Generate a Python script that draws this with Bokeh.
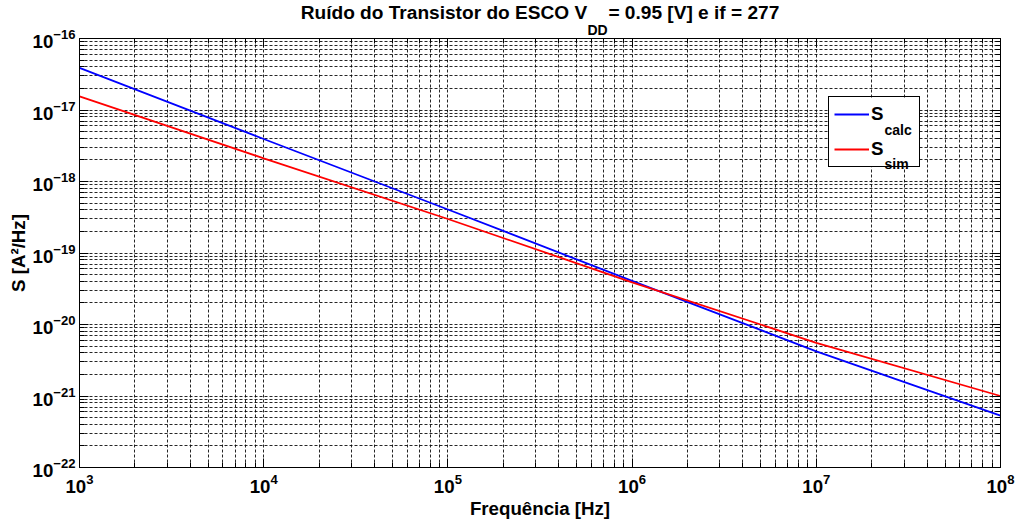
import math
from bokeh.plotting import figure
from bokeh.models import (Label, Legend, LegendItem, FixedTicker, LogAxis, Range1d,
                          Title, LogTickFormatter, BoxAnnotation)
from bokeh.embed import file_html
from bokeh.resources import INLINE
from bokeh.core.properties import value

# ---------------- data ----------------
freq = [1e3, 1e4, 1e5, 1e6, 1e7, 1e8]
s_calc = [3.89e-17, 3.93e-18, 4.06e-19, 4.07e-20, 4.22e-21, 5.33e-22]
s_sim = [1.55e-17, 2.11e-18, 2.99e-19, 3.89e-20, 5.55e-21, 1.0e-21]

x_exponents = [3, 4, 5, 6, 7, 8]
y_exponents = [-22, -21, -20, -19, -18, -17, -16]

title_main = "Ruído do Transistor do ESCO V\u00a0\u00a0\u00a0\u00a0= 0.95 [V] e if = 277"
title_sub = "DD"
x_label = "Frequência [Hz]"
y_label = "S [A²/Hz]"
legend_main = ["S", "S"]
legend_sub = ["calc", "sim"]

FONT = "Liberation Sans"
BIG = "18.7px"
TITLE = "19.1px"
SMALL = "14px"

x_major = [10.0 ** e for e in x_exponents]
y_major = [10.0 ** e for e in y_exponents]
x_minor = [m * 10.0 ** e for e in x_exponents[:-1] for m in range(2, 10)]
y_minor = [m * 10.0 ** e for e in y_exponents[:-1] for m in range(2, 10)]

x0, x1 = x_major[0], x_major[-1]
y0, y1 = y_major[0], y_major[-1]

FW, FH = 921, 429
p = figure(frame_width=FW, frame_height=FH,
           x_axis_type="log", y_axis_type="log",
           x_range=Range1d(x0, x1), y_range=Range1d(y0, y1),
           output_backend="svg", toolbar_location=None,
           min_border_left=79, min_border_right=23,
           min_border_top=38, min_border_bottom=56,
           background_fill_color="white", border_fill_color="white")

p.outline_line_color = "black"
p.outline_line_width = 1
p.outline_line_alpha = 1

xt = FixedTicker(ticks=x_major, minor_ticks=x_minor)
yt = FixedTicker(ticks=y_major, minor_ticks=y_minor)


def style_axis(ax):
    ax.major_tick_in = 9
    ax.major_tick_out = 0
    ax.minor_tick_in = 5
    ax.minor_tick_out = 0
    ax.axis_line_color = "black"
    ax.major_tick_line_color = "black"
    ax.minor_tick_line_color = "black"
    ax.major_label_text_font = FONT
    ax.major_label_text_font_style = "bold"
    ax.major_label_text_font_size = BIG
    ax.major_label_text_color = "black"
    ax.axis_label_text_font = FONT
    ax.axis_label_text_font_style = "bold"
    ax.axis_label_text_font_size = BIG
    ax.axis_label_text_color = "black"


def hide_labels(ax):
    ax.major_label_text_font_size = "2px"
    ax.major_label_text_color = None
    ax.major_label_standoff = 0


xa = p.xaxis[0]
xa.ticker = xt
xa.formatter = LogTickFormatter()
style_axis(xa)
xa.major_label_standoff = 6
xa.axis_label = x_label
xa.axis_label_standoff = 2

ya = p.yaxis[0]
ya.ticker = yt
ya.formatter = LogTickFormatter()
style_axis(ya)
ya.major_label_standoff = 4
ya.axis_label = y_label
ya.axis_label_standoff = 1

right_ax = LogAxis(ticker=FixedTicker(ticks=y_major, minor_ticks=y_minor))
style_axis(right_ax)
hide_labels(right_ax)
p.add_layout(right_ax, "right")

top_ax = LogAxis(ticker=FixedTicker(ticks=x_major, minor_ticks=x_minor))
style_axis(top_ax)
hide_labels(top_ax)
p.add_layout(top_ax, "above")

for g, t in ((p.xgrid[0], xt), (p.ygrid[0], yt)):
    g.ticker = t
    g.grid_line_color = "black"
    g.grid_line_dash = "3 2"
    g.grid_line_width = 1
    g.grid_line_alpha = 0.85
    g.minor_grid_line_color = "black"
    g.minor_grid_line_dash = "3 2"
    g.minor_grid_line_width = 1
    g.minor_grid_line_alpha = 0.85

# legend geometry (pixels from the frame's top-left corner)
LG_LEFT, LG_TOP, LG_W, LG_H = 749, 60, 90, 69


def px_to_x(px):
    return 10 ** (math.log10(x0) + px / FW * (math.log10(x1) - math.log10(x0)))


def py_to_y(py):
    return 10 ** (math.log10(y1) - py / FH * (math.log10(y1) - math.log10(y0)))


# white backing under the (transparent) legend so the grid is hidden there
p.add_layout(BoxAnnotation(left=px_to_x(LG_LEFT), right=px_to_x(LG_LEFT + LG_W),
                           top=py_to_y(LG_TOP), bottom=py_to_y(LG_TOP + LG_H),
                           fill_color="white", fill_alpha=1, line_color=None,
                           level="underlay"))

r_calc = p.line(freq, s_calc, line_color="#0000ff", line_width=1.8)
r_sim = p.line(freq, s_sim, line_color="#ff0000", line_width=1.8)

legend = Legend(items=[LegendItem(label=value(legend_main[0]), renderers=[r_calc]),
                       LegendItem(label=value(legend_main[1]), renderers=[r_sim])],
                location=(LG_LEFT, FH - LG_TOP - LG_H), margin=0, padding=5, spacing=11,
                glyph_width=35, glyph_height=24, label_height=24, label_width=43,
                label_standoff=2,
                label_text_font=FONT, label_text_font_style="bold",
                label_text_font_size=BIG, label_text_color="black",
                border_line_color="black", border_line_width=1, border_line_alpha=1,
                background_fill_alpha=0)
p.add_layout(legend, "center")

txt = dict(text_font=FONT, text_font_style="bold", text_color="black")

# legend subscripts
for i, s in enumerate(legend_sub):
    p.add_layout(Label(x=x0, y=y1, x_offset=805, y_offset=-91 - 34 * i, text=s,
                       text_align="left", text_baseline="alphabetic",
                       text_font_size=SMALL, level="overlay", **txt))

# title: subscript row nearest the frame, main row above it
t_sub = Title(text=title_sub, align="left", offset=508, standoff=0.5,
              text_font_size=SMALL, **txt)
t_main = Title(text=title_main, align="center", offset=-2, standoff=-7,
               text_font_size=TITLE, **txt)
p.add_layout(t_sub, "above")
p.add_layout(t_main, "above")

open("out.html", "w").write(file_html(p, INLINE))
